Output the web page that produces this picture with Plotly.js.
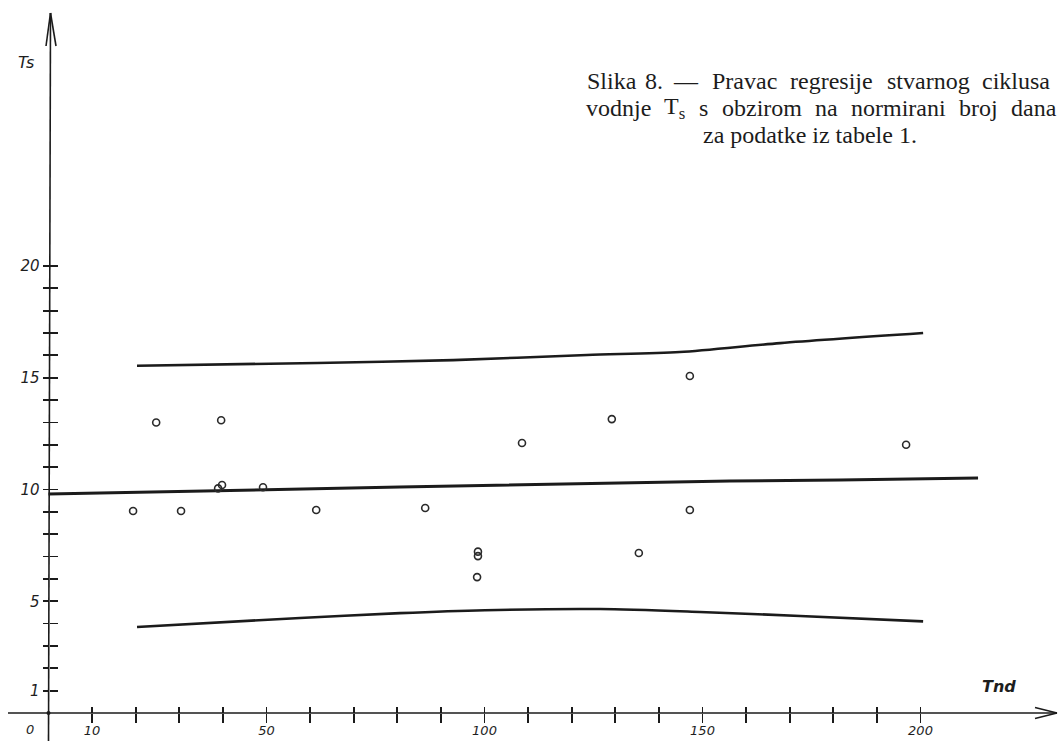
<!DOCTYPE html>
<html><head><meta charset="utf-8">
<script src="https://cdn.plot.ly/plotly-3.0.1.min.js"></script>
<style>html,body{margin:0;padding:0;background:#fff;}#chart{width:1060px;height:741px;}</style>
</head><body><div id="chart"></div>
<script>
// ---- data ----
const pointsTnd = [19.4, 24.7, 30.4, 39.6, 38.9, 39.8, 49.2, 61.4, 86.4, 98.5, 98.5, 98.3, 108.6, 129.2, 135.4, 147.1, 147.1, 196.7];
const pointsTs  = [9.04, 13.0, 9.04, 13.1, 10.05, 10.2, 10.1, 9.08, 9.17, 7.22, 7.02, 6.08, 12.08, 13.15, 7.16, 15.08, 9.08, 12.0];
const regTnd = [0, 11.8, 80.6, 156.3, 181.5, 213.2];
const regTs  = [9.8, 9.84, 10.11, 10.38, 10.42, 10.51];
const upperTnd = [20.3, 61.6, 92.8, 123.5, 144.8, 167.8, 200.6];
const upperTs  = [15.54, 15.66, 15.79, 16.02, 16.15, 16.55, 17.0];
const lowerTnd = [20.3, 57.7, 80.6, 100.1, 126.5, 149.4, 172.4, 200.6];
const lowerTs  = [3.85, 4.25, 4.47, 4.6, 4.65, 4.52, 4.34, 4.1];
const xTickVals = [10,20,30,40,50,60,70,80,90,100,110,120,130,140,150,160,170,180,190,200];
const xLabelVals = [10, 50, 100, 150, 200];
const xLabelText = ['10', '50', '100', '150', '200'];
const yTickVals = [1,2,3,4,5,6,7,8,9,10,11,12,13,14,15,16,17,18,19,20];
const yLabelVals = [1, 5, 10, 15, 20];
const yLabelText = ['1', '5', '10', '15', '20'];
const xTitle = 'Tnd';
const yTitle = 'Ts';
const originLabel = '0';
const captionLine1 = ['Slika','8.','—','Pravac','regresije','stvarnog','ciklusa'];
const captionLine2 = ['vodnje','T<sub>s</sub>','s','obzirom','na','normirani','broj','dana'];
const captionLine3 = 'za podatke iz tabele 1.';

// ---- geometry ----
const W = 1060, H = 741;
const X0 = 48.5, XS = 4.36;   // px of x=0, px per unit
const Y0 = 713, YS = 22.35;   // px of y=0, px per unit
const xr = [(0 - X0) / XS, (W - X0) / XS];
const yr = [(Y0 - H) / YS, Y0 / YS];
const dx = px => (px - X0) / XS;
const dy = py => (Y0 - py) / YS;
const ink = '#1b1b1b';

const traces = [
  {x: regTnd, y: regTs, mode: 'lines', line: {color: ink, width: 3}, hoverinfo: 'skip'},
  {x: upperTnd, y: upperTs, mode: 'lines', line: {color: ink, width: 2.6, shape: 'spline', smoothing: 0.8}, hoverinfo: 'skip'},
  {x: lowerTnd, y: lowerTs, mode: 'lines', line: {color: ink, width: 2.6, shape: 'spline', smoothing: 0.8}, hoverinfo: 'skip'},
  {x: pointsTnd, y: pointsTs, mode: 'markers',
   marker: {symbol: 'circle-open', size: 7, color: '#2a2a2a', line: {width: 1.6, color: '#2a2a2a'}}, hoverinfo: 'skip'},
  {x: [], y: [], xaxis: 'x2', yaxis: 'y2', mode: 'markers', hoverinfo: 'skip', showlegend: false},
  {x: [], y: [], xaxis: 'x3', yaxis: 'y3', mode: 'markers', hoverinfo: 'skip', showlegend: false}
];

const xFont = {family: 'DejaVu Sans', size: 13, style: 'italic', color: '#1e1e1e'};
const yFont = {family: 'DejaVu Sans', size: 15, style: 'italic', color: '#1e1e1e'};
const common = {showgrid: false, zeroline: false, showline: false, fixedrange: true, tickmode: 'array',
  tickwidth: 1.8, tickcolor: ink, automargin: false};
const xPos = (H - Y0) / H, yPos = X0 / W;

const captionFont = {family: 'Liberation Serif', size: 24, color: '#1c1c1c'};
const wordX1 = [585, 643, 671, 710, 788, 885, 980];
const wordX2 = [584, 662, 697, 720, 813, 849, 957, 1009];
const annotations = [];
captionLine1.forEach((w, i) => annotations.push({text: w, xref: 'paper', yref: 'paper', x: wordX1[i] / W, y: 1 - 81 / H,
  xanchor: 'left', yanchor: 'middle', showarrow: false, font: captionFont}));
captionLine2.forEach((w, i) => annotations.push({text: w, xref: 'paper', yref: 'paper', x: wordX2[i] / W, y: 1 - 108 / H,
  xanchor: 'left', yanchor: 'middle', showarrow: false, font: captionFont}));
annotations.push({text: captionLine3, xref: 'paper', yref: 'paper', x: 810 / W, y: 1 - 135 / H,
  xanchor: 'center', yanchor: 'middle', showarrow: false, font: captionFont});
annotations.push({text: yTitle, xref: 'paper', yref: 'paper', x: 26 / W, y: 1 - 62 / H, xanchor: 'center', yanchor: 'middle',
  showarrow: false, font: {family: 'DejaVu Sans', size: 16, style: 'italic', color: '#1e1e1e'}});
annotations.push({text: xTitle, xref: 'paper', yref: 'paper', x: 999 / W, y: 1 - 686 / H, xanchor: 'center', yanchor: 'middle',
  showarrow: false, font: {family: 'DejaVu Sans', size: 16, style: 'italic', weight: 'bold', color: '#1e1e1e'}});
annotations.push({text: originLabel, xref: 'paper', yref: 'paper', x: 30 / W, y: 1 - 729 / H, xanchor: 'center', yanchor: 'middle',
  showarrow: false, font: xFont});

const shapes = [
  // x axis line and arrow
  {type: 'line', x0: dx(8), x1: dx(1057), y0: 0, y1: 0, line: {color: ink, width: 1.6}},
  {type: 'line', x0: dx(1035), y0: dy(707.5), x1: dx(1057), y1: 0, line: {color: ink, width: 1.6}},
  {type: 'line', x0: dx(1035), y0: dy(718.5), x1: dx(1057), y1: 0, line: {color: ink, width: 1.6}},
  // y axis line and arrow
  {type: 'line', x0: 0, x1: dx(50.5), y0: dy(H), y1: dy(13), line: {color: ink, width: 1.6}},
  {type: 'line', x0: dx(46), y0: dy(46), x1: dx(50.5), y1: dy(13), line: {color: ink, width: 1.6}},
  {type: 'line', x0: dx(56), y0: dy(46), x1: dx(50.5), y1: dy(13), line: {color: ink, width: 1.6}},
  // origin dot
  {type: 'circle', x0: dx(46.5), x1: dx(50.5), y0: dy(711), y1: dy(715), fillcolor: ink, line: {width: 0}}
];

const layout = {
  width: W, height: H, margin: {l: 0, r: 0, t: 0, b: 0}, showlegend: false,
  paper_bgcolor: '#ffffff', plot_bgcolor: '#ffffff', hovermode: false,
  // labelled axes (labels only at the numbered ticks)
  xaxis: Object.assign({}, common, {range: xr, domain: [0, 1], anchor: 'free', position: xPos,
    ticks: 'outside', ticklen: 9, tickvals: xLabelVals, ticktext: xLabelText, tickfont: xFont, ticklabelstandoff: -4}),
  yaxis: Object.assign({}, common, {range: yr, domain: [0, 1], anchor: 'free', position: yPos, side: 'left',
    ticks: 'outside', ticklen: 6, tickvals: yLabelVals, ticktext: yLabelText, tickfont: yFont}),
  // tick marks below / left of the axis lines
  xaxis2: Object.assign({}, common, {range: xr, domain: [0, 1], overlaying: 'x', anchor: 'free', position: xPos,
    ticks: 'outside', ticklen: 9, tickvals: xTickVals, showticklabels: false}),
  yaxis2: Object.assign({}, common, {range: yr, domain: [0, 1], overlaying: 'y', anchor: 'free', position: yPos, side: 'left',
    ticks: 'outside', ticklen: 6, tickvals: yTickVals, showticklabels: false}),
  // tick marks above / right of the axis lines
  xaxis3: Object.assign({}, common, {range: xr, domain: [0, 1], overlaying: 'x', anchor: 'free', position: xPos,
    ticks: 'inside', ticklen: 6, tickvals: xTickVals, showticklabels: false}),
  yaxis3: Object.assign({}, common, {range: yr, domain: [0, 1], overlaying: 'y', anchor: 'free', position: yPos, side: 'left',
    ticks: 'inside', ticklen: 8, tickvals: yTickVals, showticklabels: false}),
  shapes: shapes, annotations: annotations
};

Plotly.newPlot('chart', traces, layout, {staticPlot: true, displayModeBar: false});
</script>
</body></html>
